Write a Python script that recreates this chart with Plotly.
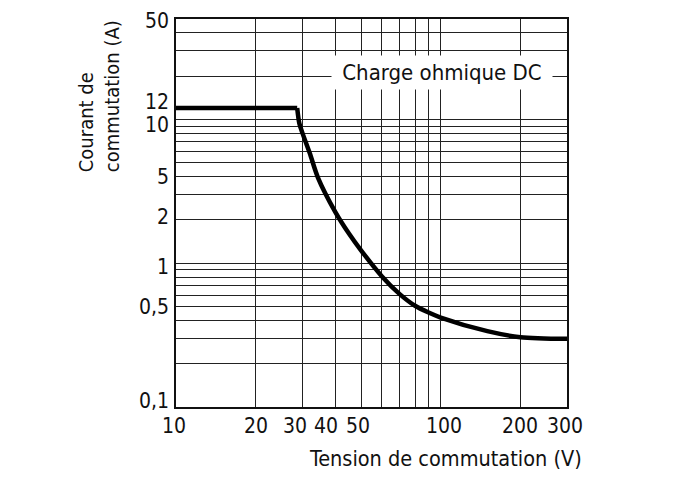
import math
import plotly.graph_objects as go

# Data
plateau_v = [10, 28.7]
plateau_a = [12, 12]
curve_v = [28.7, 29.2, 30, 32, 34.4, 40, 45, 50, 60, 70, 80, 90, 100, 150, 200, 300]
curve_a = [12, 9.5, 8.1, 5.84, 3.93, 2.27, 1.61, 1.23, 0.81, 0.61, 0.506, 0.454, 0.419, 0.337, 0.306, 0.298]

# grid lines
x_grid = [10, 20, 30, 40, 50, 60, 70, 80, 90, 100, 200, 300]
y_grid = [0.1, 0.2, 0.3, 0.4, 0.5, 0.6, 0.7, 0.8, 0.9, 1, 2, 3, 4, 5, 6, 7, 8, 9, 10, 20, 30, 40, 50]

# tick labels
x_label_vals = [10, 20, 30, 40, 50, 100, 200, 300]
x_label_text = ["10", "20", "30", "40", "50", "100", "200", "300"]
y_label_vals = [0.1, 0.5, 1, 2, 5, 10, 12, 50]
y_label_text = ["0,1", "0,5", "1", "2", "5", "10", "12", "50"]

# small label offsets as in the original drawing (style only)
x_label_shift = {10: -2, 20: 0, 30: -7, 40: -9, 50: -3, 100: 3, 200: 0, 300: -2}
y_label_shift = {0.1: 6, 0.5: 0, 1: -4, 2: 3, 5: -14, 10: -6, 12: 6, 50: -2}

FONT = "DejaVu Sans Condensed, DejaVu Sans, sans-serif"
INK = "#111111"

fig = go.Figure()
fig.add_trace(go.Scatter(x=plateau_v, y=plateau_a, mode="lines",
                         line=dict(color="#000000", width=4.5), showlegend=False))
fig.add_trace(go.Scatter(x=curve_v, y=curve_a, mode="lines",
                         line=dict(color="#000000", width=4.5, shape="spline", smoothing=0.8),
                         showlegend=False))

# page has an 8px body margin, so the figure is drawn 8px smaller
fig.update_layout(
    width=689, height=488,
    margin=dict(l=168, r=130, t=11, b=89, autoexpand=False),
    paper_bgcolor="white", plot_bgcolor="white",
    font=dict(family=FONT, size=22, color=INK),
    xaxis=dict(type="log", range=[1, math.log10(300)], tickvals=x_grid, showticklabels=False,
               showgrid=True, gridcolor="#222222", gridwidth=1.1,
               showline=True, linecolor="#111111", linewidth=1.6, mirror=True,
               ticks="", zeroline=False, automargin=False),
    yaxis=dict(type="log", range=[-1, math.log10(50)], tickvals=y_grid, showticklabels=False,
               showgrid=True, gridcolor="#222222", gridwidth=1.1,
               showline=True, linecolor="#111111", linewidth=1.6, mirror=True,
               ticks="", zeroline=False, automargin=False),
)

for v, t in zip(x_label_vals, x_label_text):
    fig.add_annotation(x=math.log10(v), y=0, xref="x", yref="paper", xanchor="center", yanchor="top",
                       text=t, showarrow=False, font=dict(size=21), xshift=x_label_shift[v], yshift=-5)

for v, t in zip(y_label_vals, y_label_text):
    fig.add_annotation(x=0, y=math.log10(v), xref="paper", yref="y", xanchor="right", yanchor="middle",
                       text=t, showarrow=False, font=dict(size=21), xshift=-6, yshift=y_label_shift[v],
                       borderpad=0)

# axis titles
fig.add_annotation(x=0, y=0.60, xref="paper", yref="paper", xanchor="center", yanchor="bottom",
                   text="Courant de<br>commutation (A)", textangle=-90, align="left",
                   showarrow=False, font=dict(size=20), xshift=-77)
fig.add_annotation(x=1, y=0, xref="paper", yref="paper", xanchor="right", yanchor="top",
                   text="Tension de commutation (V)", showarrow=False, font=dict(size=21.5),
                   xshift=17, yshift=-37)

# curve label
fig.add_annotation(x=0.68, y=0.8627, xref="paper", yref="paper", xanchor="center", yanchor="middle",
                   text=" Charge ohmique DC ", showarrow=False, bgcolor="white",
                   font=dict(size=22), borderpad=4)

fig.write_html("out.html")
